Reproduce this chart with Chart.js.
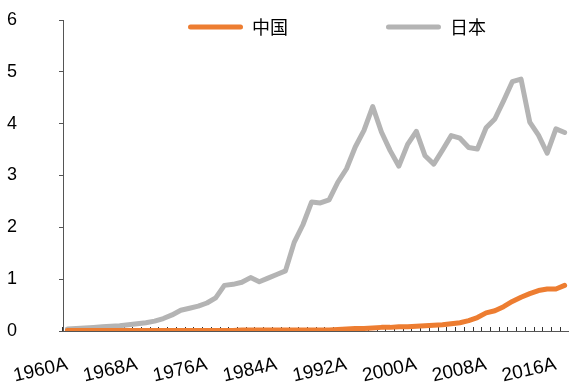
<!DOCTYPE html>
<html>
<head>
<meta charset="utf-8">
<script src="https://cdn.jsdelivr.net/npm/chart.js@4"></script>
<style>
  body { margin: 0; background: white; }
  #grafico { display: block; }
</style>
</head>
<body>
<canvas id="grafico" width="569" height="383"></canvas>
<script>
var anos = [
  "1960A", "1961A", "1962A", "1963A", "1964A", "1965A", "1966A", "1967A", "1968A", "1969A",
  "1970A", "1971A", "1972A", "1973A", "1974A", "1975A", "1976A", "1977A", "1978A", "1979A",
  "1980A", "1981A", "1982A", "1983A", "1984A", "1985A", "1986A", "1987A", "1988A", "1989A",
  "1990A", "1991A", "1992A", "1993A", "1994A", "1995A", "1996A", "1997A", "1998A", "1999A",
  "2000A", "2001A", "2002A", "2003A", "2004A", "2005A", "2006A", "2007A", "2008A", "2009A",
  "2010A", "2011A", "2012A", "2013A", "2014A", "2015A", "2016A", "2017A"
];

// rótulos que aparecem no eixo x
var rotulos_x = ["1960A", "1968A", "1976A", "1984A", "1992A", "2000A", "2008A", "2016A"];

var ticks_y = [0, 1, 2, 3, 4, 5, 6];

var china = [
  0.01, 0.01, 0.01, 0.01, 0.01, 0.01, 0.01, 0.01, 0.01, 0.01,
  0.01, 0.01, 0.01, 0.01, 0.01, 0.01, 0.01, 0.01, 0.01, 0.01,
  0.02, 0.02, 0.02, 0.02, 0.02, 0.02, 0.02, 0.02, 0.02, 0.02,
  0.02, 0.03, 0.04, 0.05, 0.05, 0.06, 0.07, 0.07, 0.08, 0.08,
  0.09, 0.10, 0.11, 0.12, 0.14, 0.16, 0.20, 0.26, 0.35, 0.39,
  0.47, 0.57, 0.65, 0.72, 0.78, 0.81, 0.81, 0.88
];

var japao = [
  0.04, 0.05, 0.06, 0.07, 0.08, 0.09, 0.10, 0.12, 0.14, 0.16,
  0.19, 0.24, 0.31, 0.40, 0.44, 0.48, 0.54, 0.64, 0.88, 0.90,
  0.94, 1.03, 0.95, 1.02, 1.09, 1.16, 1.71, 2.05, 2.49, 2.47,
  2.53, 2.87, 3.13, 3.55, 3.87, 4.33, 3.84, 3.48, 3.18, 3.60,
  3.85, 3.38, 3.22, 3.49, 3.77, 3.72, 3.54, 3.51, 3.92, 4.09,
  4.44, 4.81, 4.86, 4.03, 3.78, 3.43, 3.90, 3.83
];

var fonte = "'Liberation Sans', Arial, sans-serif";
var fonte_cjk = "'Noto Sans CJK SC', sans-serif";

// a legenda quase não ocupa espaço e fica dentro da área do gráfico
const pos_legenda = {
  id: "pos_legenda",
  beforeInit: function (chart) {
    var fit_original = chart.legend.fit;
    chart.legend.fit = function () {
      fit_original.bind(chart.legend)();
      this.height = 1;
    };
  },
  afterLayout: function (chart) {
    var lg = chart.legend;
    lg.top = -80;
    lg.bottom = 60;
    lg.left = 90;
    lg.right = 900;
  },
};

const g_linhas = document.getElementById("grafico");

new Chart(g_linhas, {
  type: "line",
  data: {
    labels: anos,
    datasets: [
      {
        label: "中国",
        data: china,
        borderColor: "#ED7D31",
        backgroundColor: "#ED7D31",
        borderWidth: 5,
        pointRadius: 0,
        tension: 0,
        borderCapStyle: "round",
        borderJoinStyle: "round",
      },
      {
        label: "日本",
        data: japao,
        borderColor: "#B4B4B4",
        backgroundColor: "#B4B4B4",
        borderWidth: 5,
        pointRadius: 0,
        tension: 0,
        borderCapStyle: "round",
        borderJoinStyle: "round",
      },
    ],
  },
  options: {
    responsive: false,
    animation: false,
    layout: {
      padding: { top: 19, right: 0, left: 0, bottom: 0 },
    },
    plugins: {
      tooltip: { enabled: false },
      legend: {
        position: "top",
        align: "start",
        labels: {
          boxWidth: 55,
          boxHeight: 5,
          useBorderRadius: true,
          borderRadius: 2.5,
          padding: 98,
          color: "#000",
          font: { family: fonte_cjk, size: 18 },
          generateLabels: function (chart) {
            return chart.data.datasets.map(function (ds, i) {
              return {
                text: ds.label,
                fillStyle: ds.borderColor,
                strokeStyle: ds.borderColor,
                lineWidth: 0,
                borderRadius: 2.5,
                datasetIndex: i,
              };
            });
          },
        },
      },
    },
    scales: {
      x: {
        offset: true,
        border: { color: "#555", width: 1 },
        grid: {
          offset: true,
          drawOnChartArea: false,
          tickLength: -4,
          color: "#333",
        },
        ticks: {
          autoSkip: false,
          minRotation: 13,
          maxRotation: 13,
          padding: 26,
          color: "#000",
          font: { family: fonte, size: 19 },
          callback: function (valor, indice) {
            var nome = anos[indice];
            return rotulos_x.indexOf(nome) >= 0 ? nome : "";
          },
        },
        afterFit: function (escala) {
          escala.height = 52;
          escala.paddingLeft = 0;
          escala.paddingRight = 0;
        },
      },
      y: {
        min: 0,
        max: 6,
        border: { color: "#555", width: 1 },
        grid: {
          drawOnChartArea: false,
          tickLength: 4,
          color: "#555",
        },
        ticks: {
          stepSize: 1,
          padding: 42,
          color: "#000",
          font: { family: fonte, size: 18 },
          callback: function (valor) {
            return ticks_y.indexOf(valor) >= 0 ? String(valor) : "";
          },
        },
        afterFit: function (escala) {
          escala.width = 63;
          escala.paddingTop = 0;
          escala.paddingBottom = 0;
        },
      },
    },
  },
  plugins: [pos_legenda],
});
</script>
</body>
</html>
